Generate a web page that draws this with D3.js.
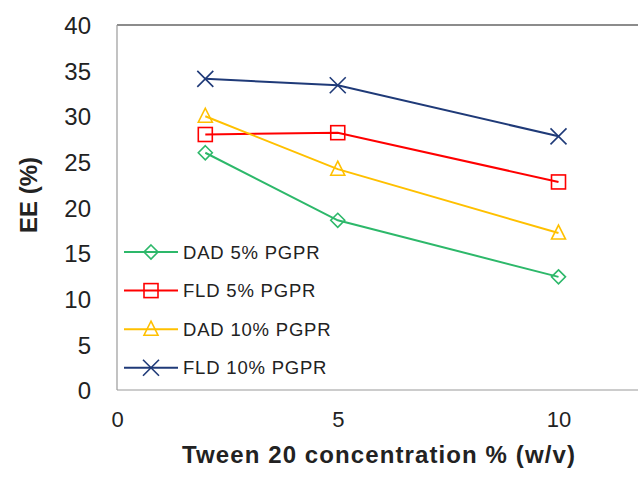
<!DOCTYPE html>
<html>
<head>
<meta charset="utf-8">
<script src="https://cdn.jsdelivr.net/npm/d3@7/dist/d3.min.js"></script>
<style>
  html, body { margin: 0; padding: 0; background: #fff; }
  svg { display: block; }
</style>
</head>
<body>
<svg id="chart" width="638" height="479"></svg>
<script>
// Tween 20 concentration (% w/v)
const concentrations = [2, 5, 10];

// Encapsulation efficiency (%) per formulation
const dad5 = [26.0, 18.6, 12.4];
const fld5 = [28.0, 28.2, 22.8];
const dad10 = [30.0, 24.2, 17.2];
const fld10 = [34.1, 33.4, 27.8];

const seriesNames = ["DAD 5% PGPR", "FLD 5% PGPR", "DAD 10% PGPR", "FLD 10% PGPR"];
const seriesColors = ["#2DB86A", "#FF0000", "#FFC000", "#1F3A78"];
const seriesSymbols = ["diamond", "square", "triangle", "cross"];
const seriesValues = [dad5, fld5, dad10, fld10];

const xTicks = [0, 5, 10];
const yTicks = [0, 5, 10, 15, 20, 25, 30, 35, 40];

const FONT = "Liberation Sans, Arial, sans-serif";
const svg = d3.select("#chart");
const plotLeft = 117, plotTop = 25, plotBottom = 390;

const x = d3.scaleLinear().domain([0, 12]).range([plotLeft, plotLeft + 12 * 44.15]);
const y = d3.scaleLinear().domain([0, 40]).range([plotBottom, plotTop]);

// plot frame (open to the right)
svg.append("line").attr("x1", plotLeft).attr("x2", 638).attr("y1", plotTop).attr("y2", plotTop)
  .attr("stroke", "#666").attr("stroke-width", 1.6);
svg.append("line").attr("x1", plotLeft).attr("x2", plotLeft).attr("y1", plotTop).attr("y2", plotBottom)
  .attr("stroke", "#9a9a9a").attr("stroke-width", 1.2);
svg.append("line").attr("x1", plotLeft).attr("x2", 638).attr("y1", plotBottom).attr("y2", plotBottom)
  .attr("stroke", "#9a9a9a").attr("stroke-width", 1.2);

// axes (labels only)
const yAxis = d3.axisLeft(y).tickValues(yTicks).tickSize(0).tickPadding(0);
const gy = svg.append("g").attr("transform", "translate(91,0)").call(yAxis);
gy.select(".domain").remove();
gy.selectAll("text").attr("font-family", FONT)
  .attr("font-size", 24).attr("fill", "#222").attr("dy", "0.36em");

const xAxis = d3.axisBottom(x).tickValues(xTicks).tickSize(0).tickPadding(0);
const gx = svg.append("g").attr("transform", "translate(0,411)").call(xAxis);
gx.select(".domain").remove();
gx.selectAll("text").attr("font-family", FONT)
  .attr("font-size", 22).attr("fill", "#222").attr("dy", "0.71em");

// axis titles
svg.append("text").attr("x", 379).attr("y", 463).attr("text-anchor", "middle")
  .attr("font-family", FONT).attr("font-weight", "bold")
  .attr("font-size", 24).attr("letter-spacing", 1.1).attr("fill", "#222")
  .text("Tween 20 concentration % (w/v)");
svg.append("text").attr("transform", "translate(37,195) rotate(-90)").attr("text-anchor", "middle")
  .attr("font-family", FONT).attr("font-weight", "bold")
  .attr("font-size", 24).attr("fill", "#222").text("EE (%)");

// marker drawing
function drawMarker(g, type, cx, cy, color) {
  const m = g.append("g").attr("transform", `translate(${cx},${cy})`)
    .attr("fill", "none").attr("stroke", color).attr("stroke-width", 1.6);
  if (type === "diamond") {
    m.append("path").attr("d", "M0,-7L7,0L0,7L-7,0Z");
  } else if (type === "square") {
    m.append("rect").attr("x", -7).attr("y", -7).attr("width", 14).attr("height", 14);
  } else if (type === "triangle") {
    m.append("path").attr("d", "M0,-8L7,6L-7,6Z");
  } else {
    m.append("path").attr("d", "M-8,-8L8,8M-8,8L8,-8");
  }
}

const line = d3.line().x(d => x(d[0])).y(d => y(d[1]));

seriesValues.forEach((vals, i) => {
  const pts = concentrations.map((c, j) => [c, vals[j]]);
  svg.append("path").datum(pts).attr("d", line)
    .attr("fill", "none").attr("stroke", seriesColors[i]).attr("stroke-width", 2);
  pts.forEach(p => drawMarker(svg, seriesSymbols[i], x(p[0]), y(p[1]), seriesColors[i]));
});

// legend
const legendY0 = 252, legendStep = 38.6;
seriesNames.forEach((name, i) => {
  const ly = legendY0 + i * legendStep;
  svg.append("line").attr("x1", 124).attr("x2", 178).attr("y1", ly).attr("y2", ly)
    .attr("stroke", seriesColors[i]).attr("stroke-width", 2);
  drawMarker(svg, seriesSymbols[i], 151, ly, seriesColors[i]);
  svg.append("text").attr("x", 183).attr("y", ly).attr("dy", "0.36em")
    .attr("font-family", FONT).attr("font-size", 18.5).attr("letter-spacing", 0.8)
    .attr("fill", "#222").text(name);
});
</script>
</body>
</html>
